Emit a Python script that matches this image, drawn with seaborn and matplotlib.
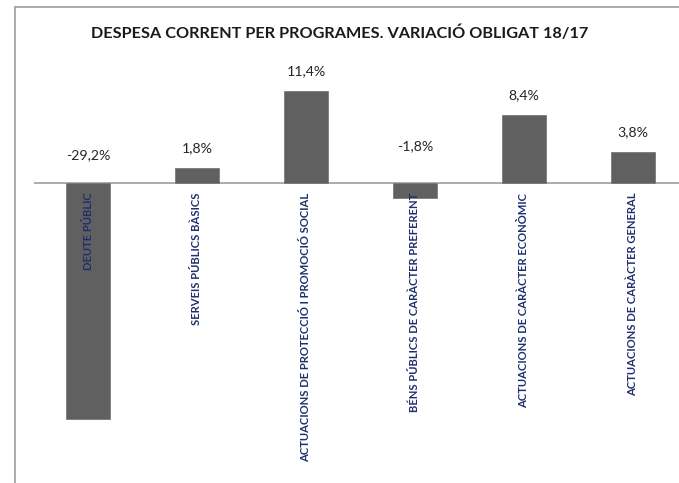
import matplotlib
matplotlib.use("Agg")
import matplotlib.pyplot as plt
import seaborn as sns
import pandas as pd

# data
programes = [
    "DEUTE PÚBLIC",
    "SERVEIS PÚBLICS BÀSICS",
    "ACTUACIONS DE PROTECCIÓ I PROMOCIÓ SOCIAL",
    "BÉNS PÚBLICS DE CARÀCTER PREFERENT",
    "ACTUACIONS DE CARÀCTER ECONÒMIC",
    "ACTUACIONS DE CARÀCTER GENERAL",
]
variacio = [-29.2, 1.8, 11.4, -1.8, 8.4, 3.8]
etiquetes = ["-29,2%", "1,8%", "11,4%", "-1,8%", "8,4%", "3,8%"]

titol = "DESPESA CORRENT PER PROGRAMES. VARIACIÓ OBLIGAT 18/17"

df = pd.DataFrame({"programa": programes, "variacio": variacio})

sns.set_theme(style="white")
plt.rcParams["font.family"] = ["Lato", "DejaVu Sans"]

W, H = 679, 483
fig = plt.figure(figsize=(W / 100, H / 100), dpi=100)

# outer chart frame (only top/left visible in the reference crop)
frame_col = "#a6a6a6"
fig.add_artist(plt.Line2D([15 / W, 15 / W], [0, 1 - 7 / H], color=frame_col, lw=1.3))
fig.add_artist(plt.Line2D([15 / W, 1], [1 - 7 / H, 1 - 7 / H], color=frame_col, lw=1.3))

# plot area: zero line at y=183px, ~8.07 px per percentage point
left_px, step_px = 33.5, 109
ymin, ymax = -35, 15
ppu = 8.07
top_px = 183 - ymax * ppu
bot_px = 183 - ymin * ppu
ax = fig.add_axes([left_px / W, 1 - bot_px / H, 6 * step_px / W, (bot_px - top_px) / H])

sns.barplot(data=df, x="programa", y="variacio", color="#606060", saturation=1,
            width=0.4, edgecolor="#7a7a7a", linewidth=0.6, ax=ax)
ax.set_ylim(ymin, ymax)
ax.set_xlim(-0.5, 5.5)
ax.axhline(0, color="#a6a6a6", lw=1.3, zorder=0)
ax.axis("off")

# value labels
for i, (v, lab) in enumerate(zip(variacio, etiquetes)):
    if v >= 0:
        y, off = v, 10
    else:
        y, off = 0, 22 if v > -5 else 16
    ax.annotate(lab, (i, y), xytext=(0, off), textcoords="offset points",
                ha="center", va="bottom", fontsize=10.2, color="#262626")

# category labels, vertical, hanging below the zero line
for i, nom in enumerate(programes):
    ax.annotate(nom, (i, 0), xytext=(0, -7), textcoords="offset points",
                ha="center", va="top", rotation=90, fontsize=8.1,
                fontweight="bold", color="#1f2f6e")

fig.text(340 / W, 1 - 33 / H, titol, ha="center", va="center",
         fontsize=11.7, fontweight="bold", color="#1a1a1a")

fig.savefig("out.png", dpi=100)
